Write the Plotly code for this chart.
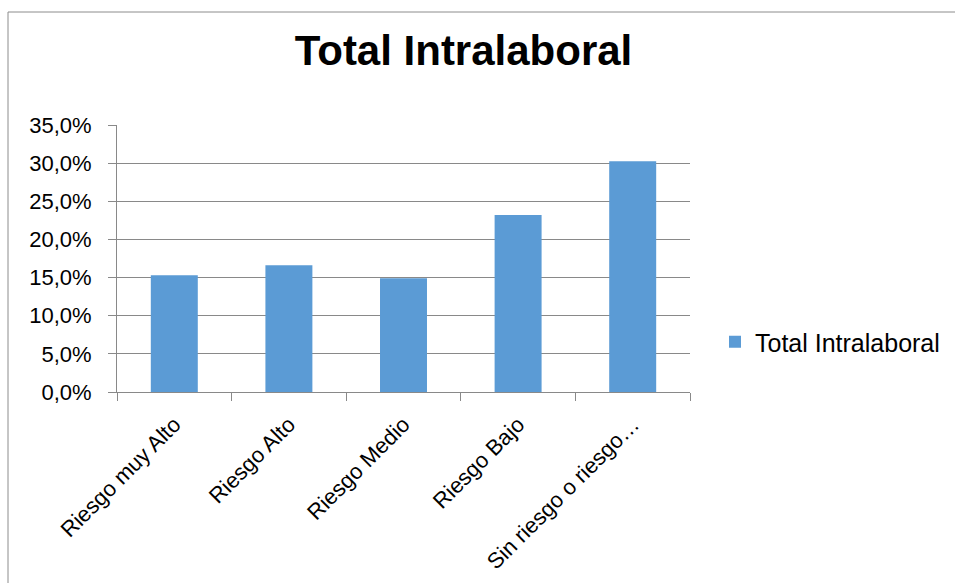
import plotly.graph_objects as go

categories = ["Riesgo muy Alto", "Riesgo Alto", "Riesgo Medio", "Riesgo Bajo", "Sin riesgo o riesgo…"]
values = [0.153, 0.166, 0.149, 0.232, 0.3025]
series_name = "Total Intralaboral"
title_text = "Total Intralaboral"

W, H = 955, 583
L, R, T, B = 117, 690, 125, 392

fig = go.Figure()
fig.add_trace(go.Bar(x=categories, y=values, name=series_name,
                     marker=dict(color="#5B9BD5", line=dict(width=0)),
                     showlegend=True))

font_family = "Liberation Sans, Arial, sans-serif"
grid_c = "#898989"

def px_x(px):
    return (px - L) / (R - L)

def px_y(py):
    return (B - py) / (B - T)

fig.update_layout(
    width=W, height=H,
    margin=dict(l=L, r=W - R, t=T, b=H - B, autoexpand=False),
    paper_bgcolor="white", plot_bgcolor="white",
    separators=",.",
    bargap=0.59,
    font=dict(family=font_family, color="#000000", size=22),
    title=dict(text="<b>" + title_text + "</b>", x=463.5 / W, xanchor="center",
               y=1 - 50 / H, yanchor="middle", yref="container",
               font=dict(size=42, family=font_family, color="#000000")),
    showlegend=True,
    legend=dict(x=px_x(715), y=px_y(342), xanchor="left", yanchor="middle",
                font=dict(size=25, family=font_family, color="#000000"),
                bgcolor="rgba(0,0,0,0)", itemwidth=30),
    xaxis=dict(showline=True, linecolor=grid_c, linewidth=1,
               ticks="outside", ticklen=8, tickcolor=grid_c, tickson="boundaries",
               tickangle=-45, showgrid=False, zeroline=False,
               ticklabelstandoff=10,
               tickfont=dict(size=22, family=font_family, color="#000000")),
    yaxis=dict(range=[0, 0.35], dtick=0.05, tick0=0, tickformat=".1%",
               showline=True, linecolor=grid_c, linewidth=1,
               ticks="outside", ticklen=8, tickcolor=grid_c,
               showgrid=True, gridcolor=grid_c, gridwidth=1, zeroline=False,
               ticklabelstandoff=12,
               tickfont=dict(size=22, family=font_family, color="#000000")),
    shapes=[dict(type="rect", xref="paper", yref="paper",
                 x0=px_x(8), x1=px_x(965), y0=px_y(595), y1=px_y(12),
                 line=dict(color="#8c8c8c", width=1), fillcolor="rgba(0,0,0,0)",
                 layer="below")],
)

fig.write_html("out.html")
